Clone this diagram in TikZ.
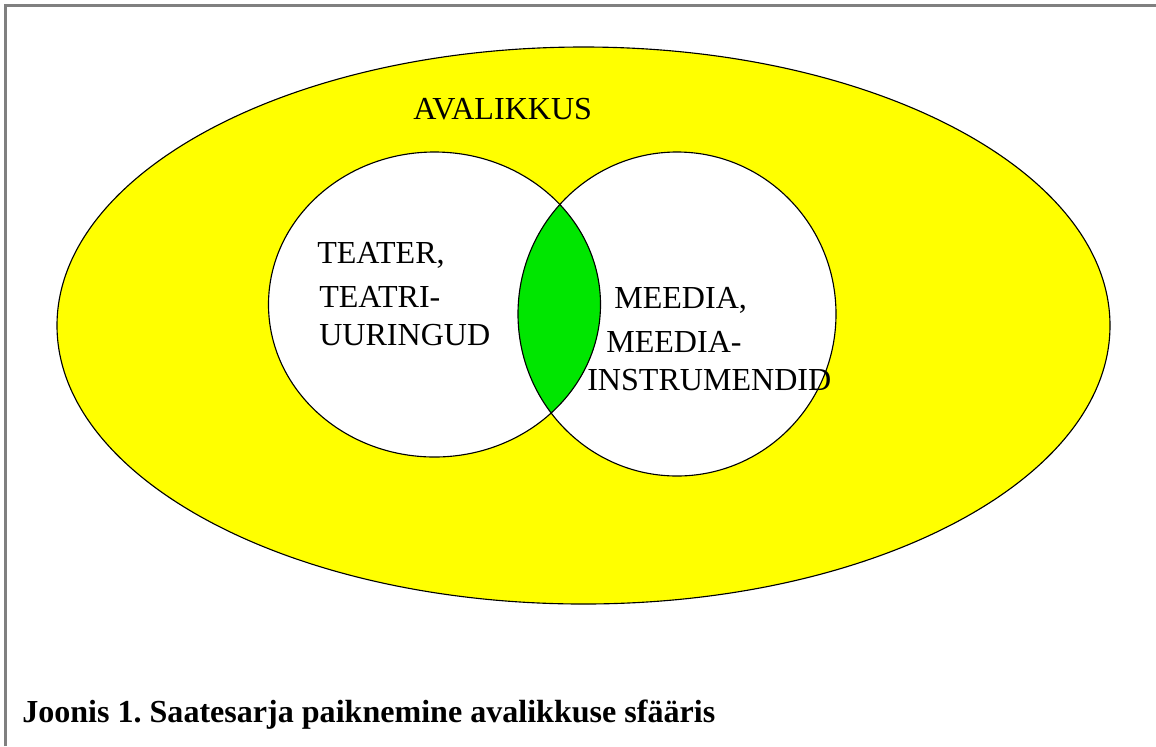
\documentclass[tikz,border=0pt]{standalone}
\usepackage{fontspec}
\setmainfont{Liberation Serif}
\usepackage{tikz}
\usetikzlibrary{positioning}

\definecolor{publicyellow}{RGB}{255,255,0}
\definecolor{overlapgreen}{RGB}{0,230,0}
\definecolor{framegray}{RGB}{128,128,128}

\begin{document}
\frenchspacing
\begin{tikzpicture}[x=0.025cm,y=-0.025cm]
 \useasboundingbox (0,0) rectangle (1156,746);
 \coordinate (origo) at (583.5,325.5);
 \coordinate (theatre_c) at (434.5,304.5);
 \coordinate (media_c) at (677,314);

\tikzstyle{venntext}=[anchor=base west,inner sep=0pt,font=\fontsize{22.8pt}{28pt}\selectfont]
\tikzstyle{rim}=[draw=black,line width=0.8pt]

   %draw frame
   \draw[framegray,line width=1.5pt] (5.5,746) -- (5.5,5.5) -- (1156,5.5);

   %public sphere
   \fill[publicyellow] (origo) ellipse [x radius=526.5, y radius=278.5];
   \draw[rim] (origo) ellipse [x radius=526.5, y radius=278.5];

   %theatre and media
   \fill[white] (theatre_c) ellipse [x radius=166, y radius=152.5];
   \fill[white] (media_c) ellipse [x radius=159, y radius=162];
   \begin{scope}
    \clip (theatre_c) ellipse [x radius=166, y radius=152.5];
    \fill[overlapgreen] (media_c) ellipse [x radius=159, y radius=162];
   \end{scope}
   \draw[rim] (theatre_c) ellipse [x radius=166, y radius=152.5];
   \draw[rim] (media_c) ellipse [x radius=159, y radius=162];

   \node (public_label) [venntext] at (413,119) {AVALIKKUS};

   \node (theatre_l1) [venntext] at (317,263) {TEATER,};
   \node (theatre_l2) [venntext] at (319,307) {TEATRI-};
   \node (theatre_l3) [venntext] at (319,345) {UURINGUD};

   \node (media_l1) [venntext] at (614,308) {MEEDIA,};
   \node (media_l2) [venntext] at (606,352) {MEEDIA-};
   \node (media_l3) [venntext] at (587,390) {INSTRUMENDID};

   %caption
   \node (caption) [venntext,font=\fontsize{22.8pt}{28pt}\selectfont\bfseries] at (22,722) {Joonis 1. Saatesarja paiknemine avalikkuse sfääris};

\end{tikzpicture}
\end{document}
